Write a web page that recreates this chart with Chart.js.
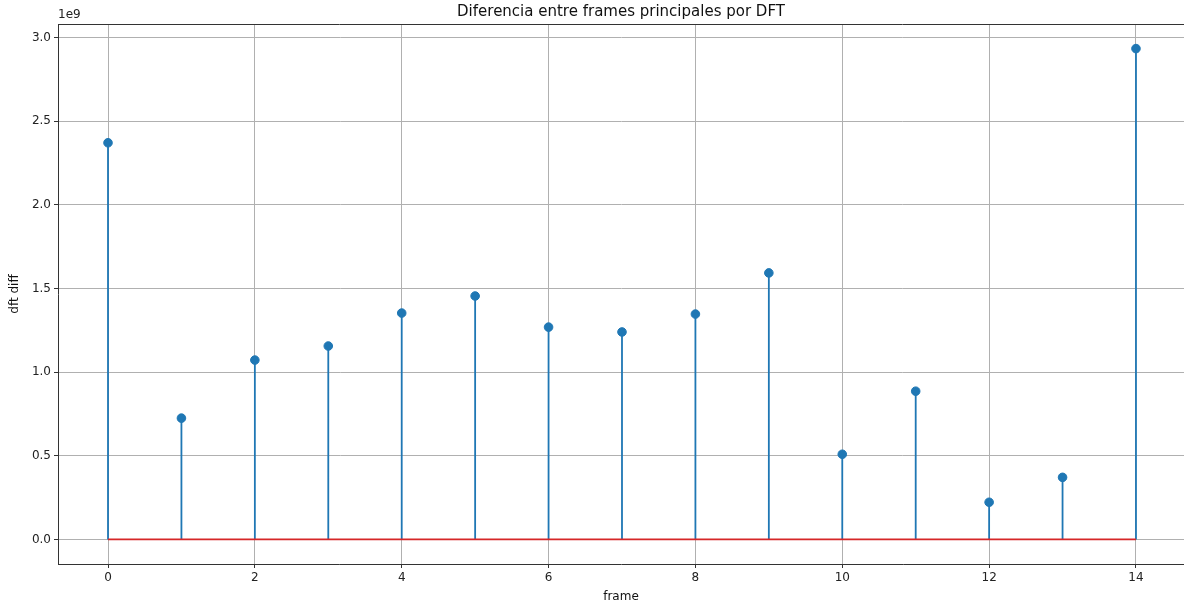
<!DOCTYPE html>
<html>
<head>
<meta charset="utf-8">
<script src="https://cdn.jsdelivr.net/npm/chart.js@4/dist/chart.umd.min.js"></script>
<style>
html,body{margin:0;padding:0;background:#fff;}
#wrap{width:1184px;height:604px;position:relative;}
</style>
</head>
<body>
<div id="wrap"><canvas id="c" width="1184" height="604"></canvas></div>
<script>
const frames = [0,1,2,3,4,5,6,7,8,9,10,11,12,13,14];
const dftDiff = [2.371e9,0.725e9,1.072e9,1.156e9,1.353e9,1.455e9,1.269e9,1.240e9,1.347e9,1.593e9,0.509e9,0.886e9,0.222e9,0.371e9,2.934e9];
const xTicks = [0,2,4,6,8,10,12,14];
const yTicks = [0,0.5e9,1.0e9,1.5e9,2.0e9,2.5e9,3.0e9];
const titleText = 'Diferencia entre frames principales por DFT';
const xLabel = 'frame';
const yLabel = 'dft diff';
const offsetText = '1e9';

const FONT = 'DejaVu Sans';
const stemData = [];
frames.forEach((f,i)=>{
  stemData.push({x:f,y:0});
  stemData.push({x:f,y:dftDiff[i]});
  stemData.push({x:f,y:null});
});
const markerData = frames.map((f,i)=>({x:f,y:dftDiff[i]}));
const baseData = [{x:frames[0],y:0},{x:frames[frames.length-1],y:0}];

const framePlugin = {
  id:'frame',
  afterDraw(chart){
    const {ctx, chartArea:a} = chart;
    ctx.save();
    ctx.strokeStyle='#333';
    ctx.lineWidth=1;
    ctx.beginPath();
    ctx.moveTo(a.left,a.top+0.5);
    ctx.lineTo(a.right,a.top+0.5);
    ctx.stroke();
    ctx.fillStyle='#222';
    ctx.font='12px "'+FONT+'"';
    ctx.textAlign='left';
    ctx.textBaseline='bottom';
    ctx.fillText(offsetText,a.left,a.top-3);
    ctx.fillStyle='#111';
    ctx.font='15px "'+FONT+'"';
    ctx.textAlign='center';
    ctx.textBaseline='middle';
    ctx.fillText(titleText,(a.left+a.right)/2,12);
    ctx.restore();
  }
};

new Chart(document.getElementById('c'),{
  type:'scatter',
  data:{datasets:[
    {type:'line',data:baseData,borderColor:'#d62728',borderWidth:1.6,pointRadius:0,order:2},
    {type:'line',data:stemData,borderColor:'#1f77b4',borderWidth:1.8,pointRadius:0,spanGaps:false,order:3},
    {type:'scatter',data:markerData,backgroundColor:'#1f77b4',borderColor:'#1f77b4',pointRadius:4.3,order:1}
  ]},
  plugins:[framePlugin],
  options:{
    responsive:false,
    animation:false,
    devicePixelRatio:1,
    layout:{autoPadding:false,padding:{top:24,right:0,left:0,bottom:0}},
    plugins:{
      legend:{display:false},
      tooltip:{enabled:false},
      title:{display:false}
    },
    scales:{
      x:{type:'linear',min:-0.681,max:14.654,
        afterBuildTicks(s){s.ticks=xTicks.map(v=>({value:v}));},
        afterFit(s){s.height=40;s.paddingLeft=0;s.paddingRight=0;},
        ticks:{color:'#222',font:{family:FONT,size:12},padding:3,maxRotation:0,callback:v=>String(v)},
        grid:{color:'#b0b0b0',lineWidth:1,tickLength:4,tickColor:'#333'},
        border:{color:'#333'},
        title:{display:true,text:xLabel,color:'#111',font:{family:FONT,size:12},padding:{top:1,bottom:0}}
      },
      y:{type:'linear',min:-0.147e9,max:3.081e9,
        afterBuildTicks(s){s.ticks=yTicks.map(v=>({value:v}));},
        afterFit(s){s.width=58;s.paddingTop=0;s.paddingBottom=0;},
        ticks:{color:'#222',font:{family:FONT,size:12},padding:3,callback:v=>(v/1e9).toFixed(1)},
        grid:{color:'#b0b0b0',lineWidth:1,tickLength:4,tickColor:'#333'},
        border:{color:'#333'},
        title:{display:true,text:yLabel,color:'#111',font:{family:FONT,size:12},padding:{top:8,bottom:0}}
      }
    }
  }
});
</script>
</body>
</html>
